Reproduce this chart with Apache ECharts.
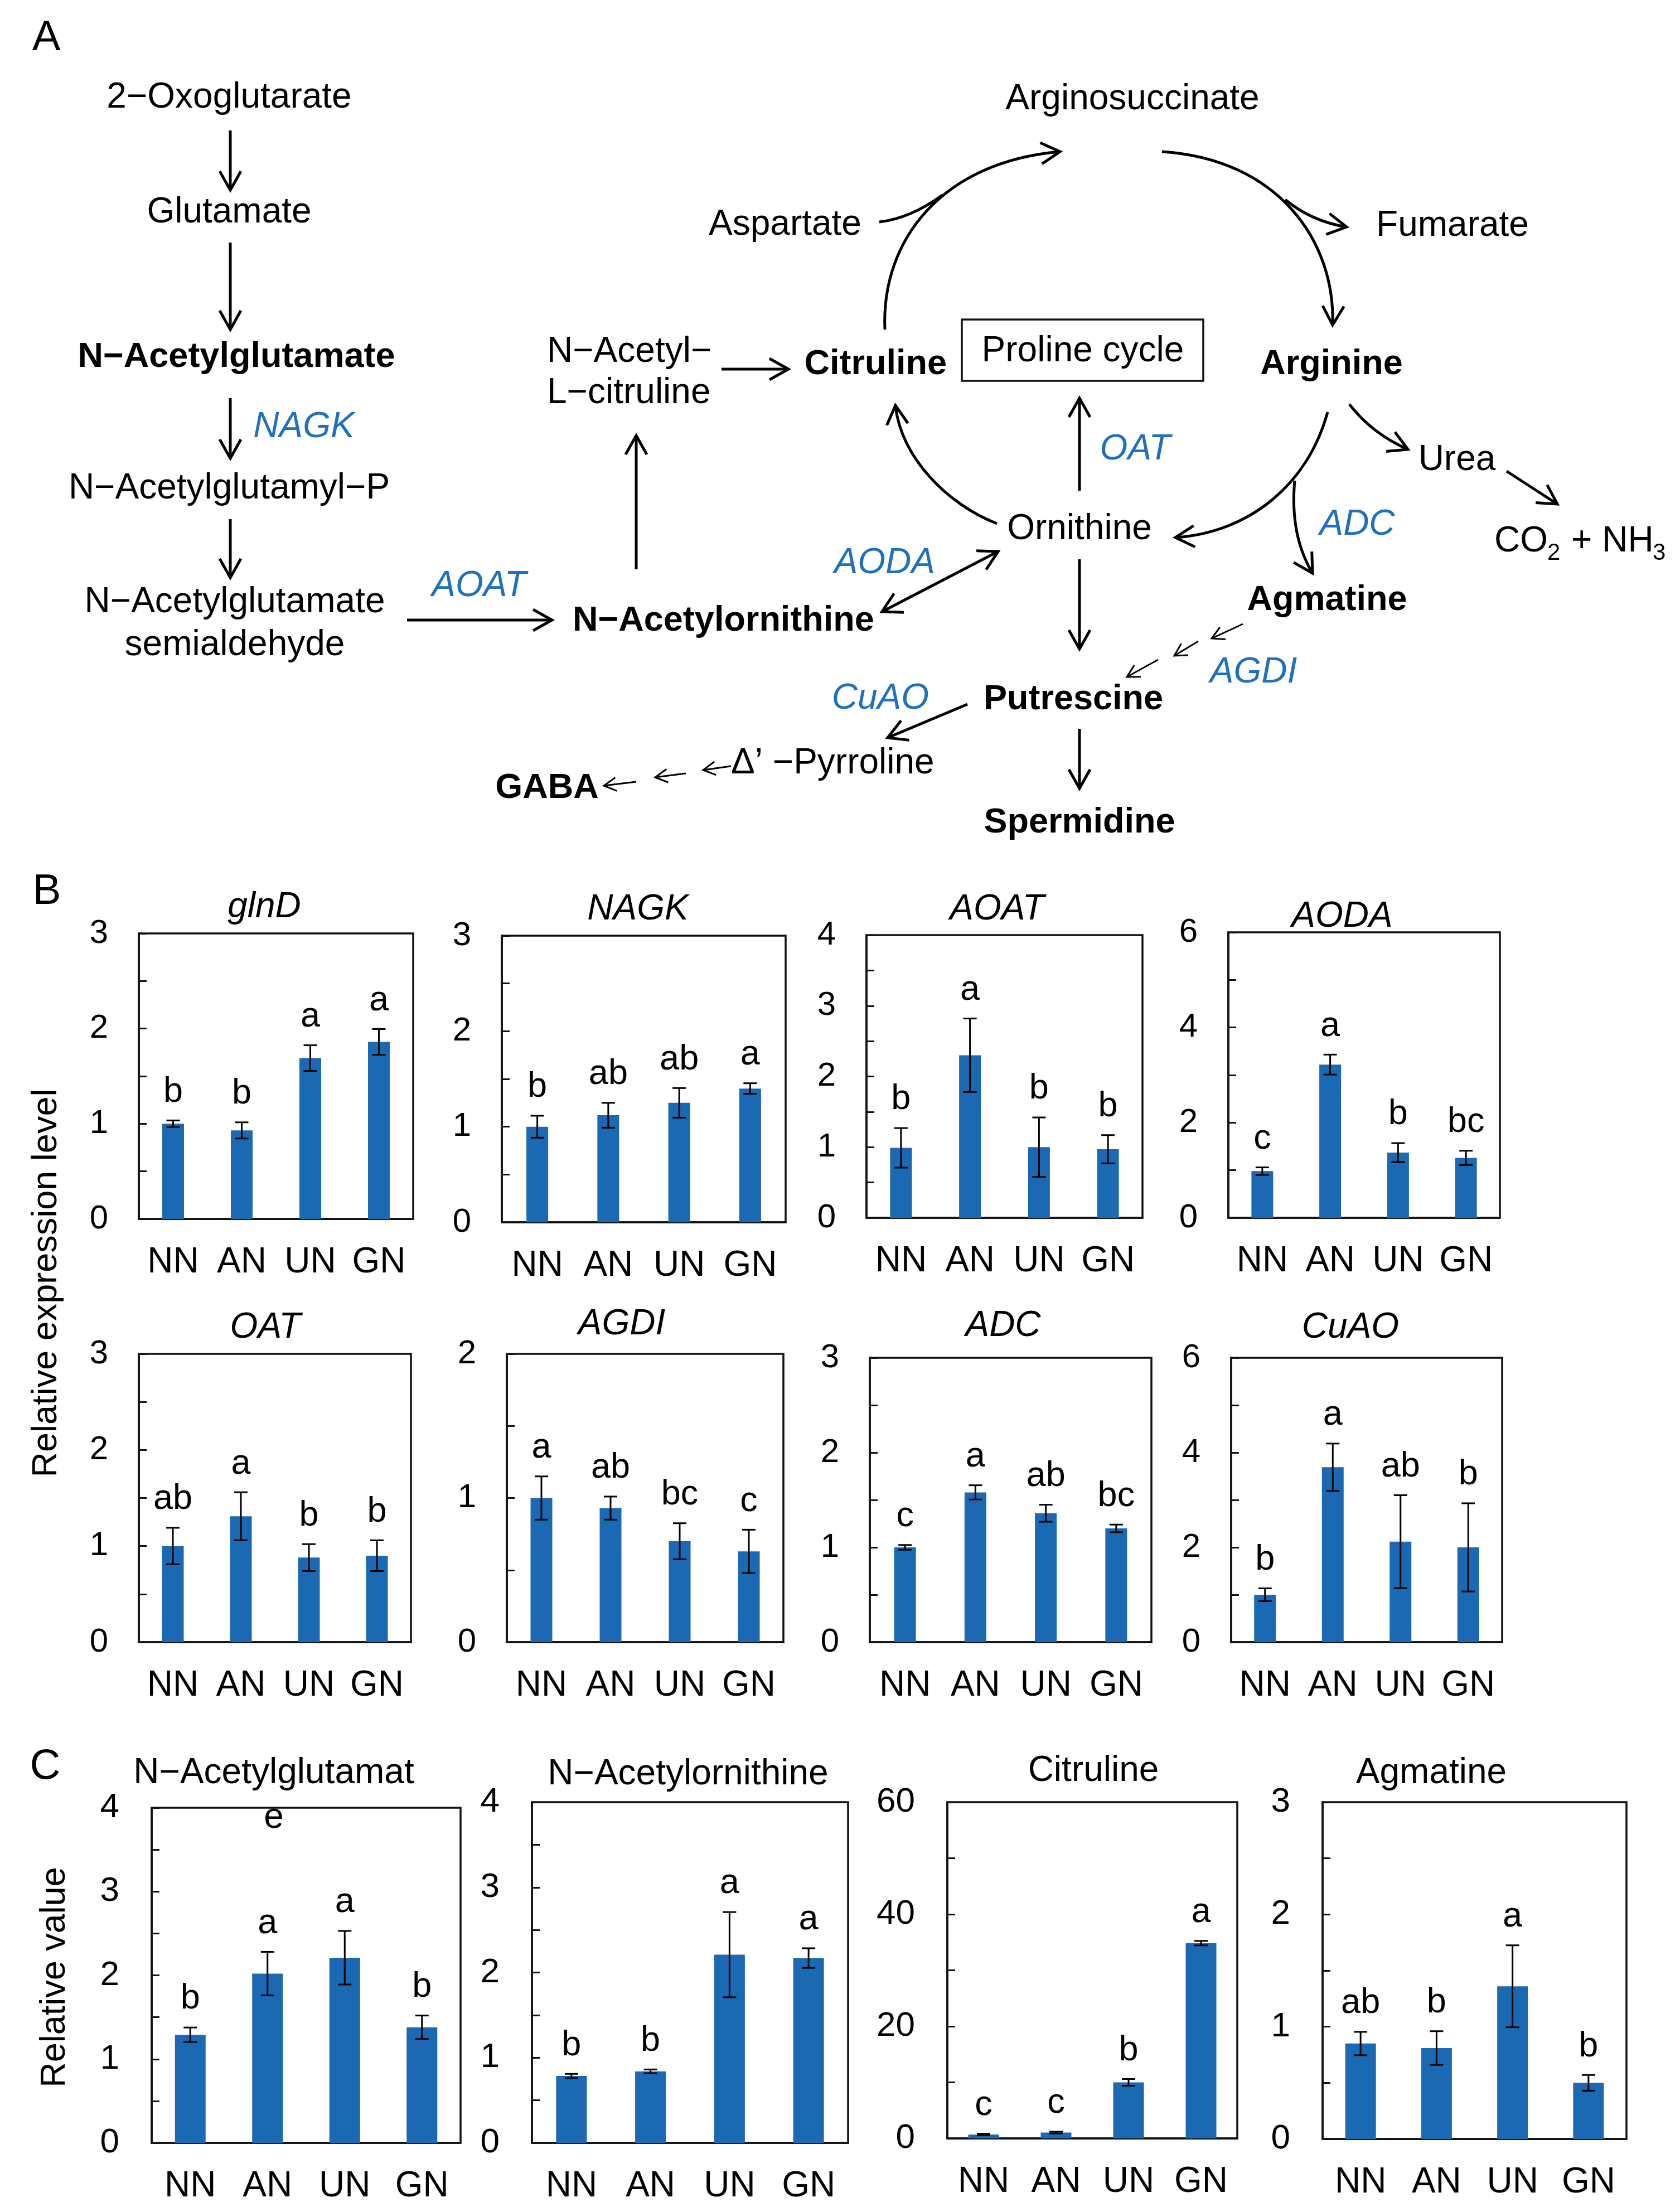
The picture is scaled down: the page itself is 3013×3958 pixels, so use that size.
<!DOCTYPE html>
<html><head><meta charset="utf-8">
<script src="https://cdn.jsdelivr.net/npm/echarts@6/dist/echarts.min.js"></script>
<style>html,body{margin:0;padding:0;background:#fff}#c{width:3013px;height:3958px}</style>
</head><body><div id="c"></div>
<script>
// ---------------- DATA ----------------
const groups = ['NN', 'AN', 'UN', 'GN'];

// Panel B: relative expression level (mean, error, significance letters)
const glnD = [1.00, 0.93, 1.69, 1.86];
const glnDErr = [0.035, 0.085, 0.135, 0.135];
const glnDSig = ['b', 'b', 'a', 'a'];
const NAGK = [1.00, 1.12, 1.25, 1.40];
const NAGKErr = [0.115, 0.13, 0.155, 0.055];
const NAGKSig = ['b', 'ab', 'ab', 'a'];
const AOAT = [0.99, 2.30, 1.00, 0.97];
const AOATErr = [0.28, 0.52, 0.42, 0.20];
const AOATSig = ['b', 'a', 'b', 'b'];
const AODA = [0.98, 3.22, 1.37, 1.26];
const AODAErr = [0.08, 0.21, 0.20, 0.15];
const AODASig = ['c', 'a', 'b', 'bc'];
const OAT = [1.00, 1.31, 0.88, 0.90];
const OATErr = [0.19, 0.25, 0.14, 0.16];
const OATSig = ['ab', 'a', 'b', 'b'];
const AGDI = [1.00, 0.93, 0.70, 0.63];
const AGDIErr = [0.15, 0.08, 0.125, 0.15];
const AGDISig = ['a', 'ab', 'bc', 'c'];
const ADC = [1.00, 1.58, 1.36, 1.20];
const ADCErr = [0.025, 0.075, 0.09, 0.04];
const ADCSig = ['c', 'a', 'ab', 'bc'];
const CuAO = [1.00, 3.69, 2.12, 2.00];
const CuAOErr = [0.135, 0.50, 0.98, 0.93];
const CuAOSig = ['b', 'a', 'ab', 'b'];

// Panel C: relative value
const NAcGlu = [1.29, 2.02, 2.21, 1.38];
const NAcGluErr = [0.087, 0.26, 0.32, 0.14];
const NAcGluSig = ['b', 'a', 'a', 'b'];
const NAcOrn = [0.785, 0.84, 2.21, 2.17];
const NAcOrnErr = [0.025, 0.022, 0.50, 0.115];
const NAcOrnSig = ['b', 'b', 'a', 'a'];
const Citruline = [0.69, 1.04, 10.0, 34.85];
const CitrulineErr = [0.15, 0.15, 0.6, 0.4];
const CitrulineSig = ['c', 'c', 'b', 'a'];
const Agmatine = [0.85, 0.81, 1.36, 0.50];
const AgmatineErr = [0.104, 0.15, 0.365, 0.07];
const AgmatineSig = ['ab', 'b', 'a', 'b'];

// axis ranges: max, tick step, label step
const axisMax   = [3, 3, 4, 6, 3, 2, 3, 6, 4, 4, 60, 3];
const tickStep  = [0.5, 0.5, 0.5, 1, 0.5, 0.5, 0.5, 1, 0.5, 0.5, 10, 0.5];
const labelStep = [1, 1, 1, 2, 1, 1, 1, 2, 1, 1, 20, 1];

const titles = ['glnD', 'NAGK', 'AOAT', 'AODA', 'OAT', 'AGDI', 'ADC', 'CuAO',
  'N\u2212Acetylglutamat', 'N\u2212Acetylornithine', 'Citruline', 'Agmatine'];
const valueSets = [glnD, NAGK, AOAT, AODA, OAT, AGDI, ADC, CuAO, NAcGlu, NAcOrn, Citruline, Agmatine];
const errSets = [glnDErr, NAGKErr, AOATErr, AODAErr, OATErr, AGDIErr, ADCErr, CuAOErr, NAcGluErr, NAcOrnErr, CitrulineErr, AgmatineErr];
const sigSets = [glnDSig, NAGKSig, AOATSig, AODASig, OATSig, AGDISig, ADCSig, CuAOSig, NAcGluSig, NAcOrnSig, CitrulineSig, AgmatineSig];

// ---------------- LAYOUT / STYLE ----------------
const FONT = '"Liberation Sans", Arial, sans-serif';
const BAR = '#1a69b2';
const BLUE = '#1f70be';
const layout = [
  {l: 249, t: 1674, w: 492, h: 512, tx: 474, ty: 1627},
  {l: 900, t: 1678, w: 509, h: 514, tx: 1144, ty: 1631},
  {l: 1554, t: 1677, w: 495, h: 507, tx: 1788, ty: 1631},
  {l: 2203, t: 1672, w: 487, h: 512, tx: 2407, ty: 1644},
  {l: 249, t: 2428, w: 488, h: 517, tx: 476, ty: 2381},
  {l: 909, t: 2428, w: 496, h: 517, tx: 1115, ty: 2375},
  {l: 1560, t: 2435, w: 505, h: 510, tx: 1799, ty: 2378},
  {l: 2208, t: 2435, w: 486, h: 510, tx: 2422, ty: 2381},
  {l: 272, t: 3242, w: 554, h: 601, tx: 491, ty: 3180},
  {l: 954, t: 3232, w: 567, h: 611, tx: 1234, ty: 3182},
  {l: 1699, t: 3232, w: 520, h: 603, tx: 1961, ty: 3176},
  {l: 2372, t: 3232, w: 545, h: 604, tx: 2567, ty: 3180}
];

const grids = [], xAxes = [], yAxes = [], series = [], graphics = [];

function txt(x, y, text, o) {
  o = o || {};
  return {
    type: 'text', x: x, y: y, z: 100,
    style: {
      text: text, fill: o.color || '#000',
      fontSize: o.size || 64, fontFamily: FONT,
      fontWeight: o.bold ? 'bold' : 'normal',
      fontStyle: o.italic ? 'italic' : 'normal',
      textAlign: o.align || 'center', align: o.align || 'center',
      textVerticalAlign: 'middle', verticalAlign: 'middle'
    }
  };
}

layout.forEach(function (L, i) {
  const isC = i >= 8;
  grids.push({left: L.l, top: L.t, width: L.w, height: L.h, show: true,
    borderColor: '#111', borderWidth: 3.5, backgroundColor: 'rgba(0,0,0,0)'});
  xAxes.push({type: 'category', gridIndex: i, data: groups,
    axisLine: {show: true, lineStyle: {color: '#111', width: 3.5}},
    axisTick: {show: false},
    axisLabel: {margin: 46, fontSize: 64, color: '#000', fontFamily: FONT, interval: 0}});
  const ls = labelStep[i];
  yAxes.push({type: 'value', gridIndex: i, min: 0, max: axisMax[i], interval: tickStep[i],
    splitLine: {show: false},
    axisLine: {show: true, lineStyle: {color: '#111', width: 3.5}},
    axisTick: {show: true, inside: true, length: 14, lineStyle: {color: '#111', width: 3}},
    axisLabel: {margin: isC ? 58 : 55, fontSize: isC ? 62 : 60, color: '#000', fontFamily: FONT,
      formatter: function (v) { const r = v / ls; return Math.abs(r - Math.round(r)) < 1e-6 ? String(Math.round(v)) : ''; }}});
  const vals = valueSets[i], errs = errSets[i], sig = sigSets[i];
  series.push({type: 'bar', xAxisIndex: i, yAxisIndex: i, data: vals, barWidth: isC ? 55 : 39,
    itemStyle: {color: BAR}, silent: true, animation: false});
  series.push({type: 'custom', xAxisIndex: i, yAxisIndex: i, silent: true, animation: false, z: 5,
    encode: {x: 0, y: [1, 2]},
    data: vals.map(function (v, k) { return [k, v - errs[k], v + errs[k]]; }),
    renderItem: function (params, api) {
      const k = api.value(0);
      const pHi = api.coord([k, api.value(2)]);
      const pLo = api.coord([k, api.value(1)]);
      const x = pHi[0], cw = 12;
      const st = {stroke: '#000', lineWidth: 3};
      return {type: 'group', children: [
        {type: 'line', shape: {x1: x, y1: pHi[1], x2: x, y2: pLo[1]}, style: st},
        {type: 'line', shape: {x1: x - cw, y1: pHi[1], x2: x + cw, y2: pHi[1]}, style: st},
        {type: 'line', shape: {x1: x - cw, y1: pLo[1], x2: x + cw, y2: pLo[1]}, style: st},
        {type: 'text', x: x, y: pHi[1] - 51, style: {text: sig[params.dataIndex], fill: '#000',
          fontSize: 63, fontFamily: FONT, textAlign: 'center', align: 'center',
          textVerticalAlign: 'middle', verticalAlign: 'middle'}}
      ]};
    }});
  graphics.push(txt(L.tx, L.ty, titles[i], {size: 64, italic: !isC}));
  if (i === 8) graphics.push(txt(L.tx, L.ty + 80, 'e', {size: 64}));
});

// panel labels and axis names
graphics.push(txt(83, 69, 'A', {size: 76}));
graphics.push(txt(84, 1600, 'B', {size: 76}));
graphics.push(txt(81, 3169, 'C', {size: 76}));
graphics.push(Object.assign(txt(0, 0, 'Relative expression level', {size: 63}), {x: 84, y: 2301, rotation: Math.PI / 2}));
graphics.push(Object.assign(txt(0, 0, 'Relative value', {size: 63}), {x: 99, y: 3546, rotation: Math.PI / 2}));

// ---------------- PANEL A: pathway diagram ----------------
const LW = 5;
function head(tx, ty, fx, fy, len, half, w) {
  const dx = tx - fx, dy = ty - fy, d = Math.hypot(dx, dy);
  const ux = dx / d, uy = dy / d, nx = -uy, ny = ux;
  return {type: 'polyline', z: 100, shape: {points: [
    [tx - len * ux + half * nx, ty - len * uy + half * ny], [tx, ty],
    [tx - len * ux - half * nx, ty - len * uy - half * ny]]},
    style: {stroke: '#000', lineWidth: w, fill: 'none', lineJoin: 'miter', lineCap: 'butt'}};
}
function arrow(x1, y1, x2, y2, both) {
  graphics.push({type: 'line', z: 100, shape: {x1: x1, y1: y1, x2: x2, y2: y2}, style: {stroke: '#000', lineWidth: LW}});
  graphics.push(head(x2, y2, x1, y1, 34, 19, LW));
  if (both) graphics.push(head(x1, y1, x2, y2, 34, 19, LW));
}
function smallArrow(x1, y1, x2, y2) {
  graphics.push({type: 'line', z: 100, shape: {x1: x1, y1: y1, x2: x2, y2: y2}, style: {stroke: '#000', lineWidth: 3}});
  graphics.push(head(x2, y2, x1, y1, 22, 12, 3));
}
function curve(s, c1, c2, e, withHead) {
  const shape = {x1: s[0], y1: s[1], x2: e[0], y2: e[1], cpx1: c1[0], cpy1: c1[1]};
  if (c2) { shape.cpx2 = c2[0]; shape.cpy2 = c2[1]; }
  graphics.push({type: 'bezierCurve', z: 100, shape: shape, style: {stroke: '#000', lineWidth: LW, fill: 'none'}});
  if (withHead) { const f = c2 || c1; graphics.push(head(e[0], e[1], f[0], f[1], 34, 19, LW)); }
}

// left column
graphics.push(txt(411, 175, '2\u2212Oxoglutarate'));
arrow(413, 234, 413, 341);
graphics.push(txt(411, 381, 'Glutamate'));
arrow(413, 435, 413, 591);
graphics.push(txt(424, 641, 'N\u2212Acetylglutamate', {bold: true, size: 63}));
arrow(413, 714, 413, 822);
graphics.push(txt(545, 766, 'NAGK', {italic: true, color: BLUE}));
graphics.push(txt(411, 876, 'N\u2212Acetylglutamyl\u2212P'));
arrow(413, 931, 413, 1036);
graphics.push(txt(421, 1080, 'N\u2212Acetylglutamate'));
graphics.push(txt(421, 1157, 'semialdehyde'));
arrow(730, 1112, 990, 1112);
graphics.push(txt(859, 1051, 'AOAT', {italic: true, color: BLUE}));
graphics.push(txt(1027, 1114, 'N\u2212Acetylornithine', {bold: true, size: 63, align: 'left'}));
arrow(1141, 1021, 1141, 781);
graphics.push(txt(981, 631, 'N\u2212Acetyl\u2212', {align: 'left'}));
graphics.push(txt(981, 705, 'L\u2212citruline', {align: 'left'}));
arrow(1294, 662, 1414, 662);

// cycle
graphics.push(txt(1698, 654, 'Citruline', {bold: true, size: 63, align: 'right'}));
graphics.push({type: 'rect', z: 100, shape: {x: 1725, y: 573, width: 433, height: 110},
  style: {stroke: '#111', lineWidth: 3.5, fill: 'none'}});
graphics.push(txt(1942, 630, 'Proline cycle'));
graphics.push(txt(2388, 654, 'Arginine', {bold: true, size: 63}));
graphics.push(txt(2031, 178, 'Arginosuccinate'));
graphics.push(txt(1271, 403, 'Aspartate', {align: 'left'}));
graphics.push(txt(2605, 405, 'Fumarate'));
curve([1587, 591], [1580, 430], [1690, 290], [1901, 272], true);
curve([1577, 398], [1632, 392], null, [1690, 350], false);
curve([2084, 272], [2290, 285], [2395, 430], [2390, 583], true);
curve([2305, 358], [2352, 397], null, [2415, 407], true);
curve([1788, 939], [1700, 905], [1615, 820], [1606, 727], true);
curve([2381, 739], [2345, 870], [2240, 955], [2108, 964], true);
curve([2322, 862], [2313, 960], null, [2354, 1028], true);
curve([2420, 725], [2460, 777], null, [2525, 806], true);
arrow(2702, 845, 2793, 904);
arrow(1936, 880, 1936, 714);
graphics.push(txt(2036, 806, 'OAT', {italic: true, color: BLUE}));
graphics.push(txt(1936, 949, 'Ornithine'));
graphics.push(txt(2434, 941, 'ADC', {italic: true, color: BLUE}));
graphics.push(txt(2613, 825, 'Urea'));
graphics.push(txt(2680, 971, 'CO', {align: 'left'}));
graphics.push(txt(2775, 992, '2', {align: 'left', size: 42}));
graphics.push(txt(2818, 971, '+ NH', {align: 'left'}));
graphics.push(txt(2964, 992, '3', {align: 'left', size: 42}));
graphics.push(txt(2380, 1077, 'Agmatine', {bold: true, size: 63}));
smallArrow(2229, 1119, 2173, 1145);
smallArrow(2149, 1150, 2106, 1176);
smallArrow(2077, 1183, 2021, 1214);
graphics.push(txt(2248, 1206, 'AGDI', {italic: true, color: BLUE}));
arrow(1936, 1003, 1936, 1164);
graphics.push(txt(1925, 1255, 'Putrescine', {bold: true, size: 63}));
arrow(1936, 1307, 1936, 1414);
graphics.push(txt(1936, 1476, 'Spermidine', {bold: true, size: 63}));
arrow(1582, 1097, 1790, 989, true);
graphics.push(txt(1677, 1010, 'AODA', {italic: true, color: BLUE, align: 'right'}));
arrow(1735, 1263, 1592, 1323);
graphics.push(txt(1666, 1253, 'CuAO', {italic: true, color: BLUE, align: 'right'}));
graphics.push(txt(1311, 1369, '\u0394\u2019 \u2212Pyrroline', {align: 'left'}));
smallArrow(1311, 1374, 1261, 1381);
smallArrow(1230, 1387, 1175, 1394);
smallArrow(1141, 1402, 1083, 1409);
graphics.push(txt(981, 1414, 'GABA', {bold: true, size: 63}));

const chart = echarts.init(document.getElementById('c'), null, {renderer: 'canvas', width: 3013, height: 3958});
chart.setOption({
  backgroundColor: '#ffffff',
  animation: false,
  grid: grids, xAxis: xAxes, yAxis: yAxes, series: series,
  graphic: {elements: graphics}
});
</script></body></html>
